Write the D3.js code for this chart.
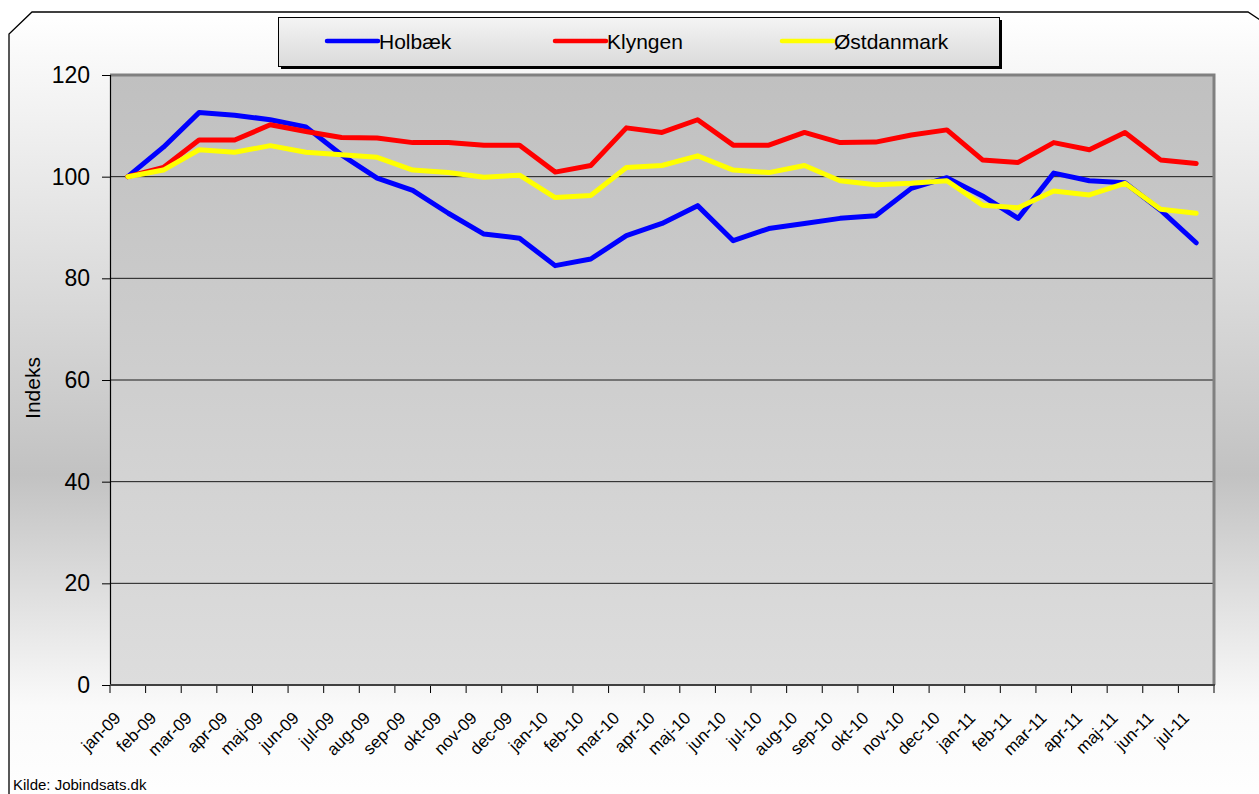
<!DOCTYPE html>
<html>
<head>
<meta charset="utf-8">
<script src="https://cdn.jsdelivr.net/npm/d3@7"></script>
<style>
  body { margin: 0; background: #fff; }
  svg { display: block; font-family: "Liberation Sans", Arial, sans-serif; }
</style>
</head>
<body>
<div id="chart"></div>
<script>
// months shown on the x axis
var months = ["jan-09","feb-09","mar-09","apr-09","maj-09","jun-09","jul-09","aug-09","sep-09","okt-09","nov-09","dec-09",
              "jan-10","feb-10","mar-10","apr-10","maj-10","jun-10","jul-10","aug-10","sep-10","okt-10","nov-10","dec-10",
              "jan-11","feb-11","mar-11","apr-11","maj-11","jun-11","jul-11"];
var holbaek = [100, 105.8, 112.6, 112.1, 111.2, 109.8, 104.3, 99.7, 97.3, 92.8, 88.7, 87.9, 82.5, 83.8, 88.4, 90.8,
               94.3, 87.4, 89.8, 90.8, 91.8, 92.3, 97.7, 99.8, 96.2, 91.8, 100.7, 99.2, 98.8, 93.4, 87.0];
var klyngen = [100, 101.8, 107.2, 107.2, 110.2, 108.9, 107.7, 107.6, 106.7, 106.7, 106.2, 106.2, 100.9, 102.2, 109.6, 108.7,
               111.2, 106.2, 106.2, 108.7, 106.7, 106.8, 108.2, 109.2, 103.3, 102.8, 106.7, 105.3, 108.7, 103.3, 102.6];
var ostdanmark = [100, 101.3, 105.3, 104.8, 106.1, 104.8, 104.3, 103.8, 101.3, 100.8, 99.9, 100.3, 95.9, 96.3, 101.8, 102.2,
                  104.1, 101.3, 100.8, 102.2, 99.2, 98.4, 98.7, 99.2, 94.4, 93.9, 97.2, 96.4, 98.7, 93.6, 92.8];
var seriesNames = ["Holbæk", "Klyngen", "Østdanmark"];
var seriesColors = ["#0000ff", "#ff0000", "#ffff00"];
var yTicks = [0, 20, 40, 60, 80, 100, 120];

var width = 1259, height = 794;
var plot = {left: 110, top: 75, right: 1214, bottom: 685};

var svg = d3.select("#chart").append("svg")
    .attr("width", width)
    .attr("height", height);

var defs = svg.append("defs");
var bg = defs.append("linearGradient").attr("id", "bgGrad")
    .attr("x1", 0).attr("y1", 0).attr("x2", 0).attr("y2", 1);
bg.append("stop").attr("offset", "0%").attr("stop-color", "#ffffff");
bg.append("stop").attr("offset", "58%").attr("stop-color", "#c2c2c2");
bg.append("stop").attr("offset", "87%").attr("stop-color", "#fafafa");
bg.append("stop").attr("offset", "100%").attr("stop-color", "#ffffff");

var pg = defs.append("linearGradient").attr("id", "plotGrad")
    .attr("x1", 0).attr("y1", 0).attr("x2", 0).attr("y2", 1);
pg.append("stop").attr("offset", "0%").attr("stop-color", "#c0c0c0");
pg.append("stop").attr("offset", "100%").attr("stop-color", "#dddddd");

var lg = defs.append("linearGradient").attr("id", "legGrad")
    .attr("x1", 0).attr("y1", 0).attr("x2", 0).attr("y2", 1);
lg.append("stop").attr("offset", "0%").attr("stop-color", "#f4f4f4");
lg.append("stop").attr("offset", "100%").attr("stop-color", "#dadada");

/* Outer chart area with cut corners */
svg.append("path")
    .attr("d", "M32,12 L1248,12 L1275,30 L1275,810 L9,810 L9,34 Z")
    .attr("fill", "url(#bgGrad)")
    .attr("stroke", "#000")
    .attr("stroke-width", 1.3);

/* Scales */
var x = d3.scaleBand()
    .domain(months)
    .range([plot.left, plot.right])
    .padding(0);
var y = d3.scaleLinear()
    .domain([0, 120])
    .range([plot.bottom, plot.top]);

/* Plot area */
svg.append("rect")
    .attr("x", plot.left)
    .attr("y", plot.top)
    .attr("width", plot.right - plot.left)
    .attr("height", plot.bottom - plot.top)
    .attr("fill", "url(#plotGrad)");

// gridlines
svg.append("g").selectAll("line")
    .data(yTicks.filter(function(d){ return d > 0 && d < 120; }))
    .enter().append("line")
    .attr("x1", plot.left).attr("x2", plot.right)
    .attr("y1", function(d){ return y(d); })
    .attr("y2", function(d){ return y(d); })
    .attr("stroke", "#1a1a1a")
    .attr("stroke-width", 1);

// plot border top and right (grey)
svg.append("path")
    .attr("d", "M" + plot.left + "," + plot.top + " L" + plot.right + "," + plot.top + " L" + plot.right + "," + plot.bottom)
    .attr("fill", "none")
    .attr("stroke", "#808080")
    .attr("stroke-width", 3);

/* Y axis */
var yAxis = svg.append("g")
    .attr("transform", "translate(" + plot.left + ",0)")
    .call(d3.axisLeft(y).tickValues(yTicks).tickSize(8).tickPadding(12));
yAxis.select(".domain").attr("stroke", "#000").attr("stroke-width", 1.2);
yAxis.selectAll(".tick line").attr("stroke", "#000");
yAxis.selectAll("text")
    .attr("fill", "#000")
    .style("font-size", "23px")
    .style("font-family", "'Liberation Sans', Arial, sans-serif");

svg.append("text")
    .attr("transform", "translate(40,388) rotate(-90)")
    .attr("text-anchor", "middle")
    .style("font-size", "21px")
    .text("Indeks");

/* X axis */
var xAxis = svg.append("g")
    .attr("transform", "translate(0," + plot.bottom + ")")
    .call(d3.axisBottom(x).tickSize(0).tickPadding(0));
xAxis.select(".domain").remove();
xAxis.selectAll(".tick text")
    .attr("fill", "#000")
    .attr("text-anchor", "end")
    .attr("dy", 0)
    .attr("y", 0)
    .attr("transform", "translate(-6,34) rotate(-45)")
    .style("font-size", "17px")
    .style("font-family", "'Liberation Sans', Arial, sans-serif");

// boundary ticks between months
var bounds = months.map(function(m){ return x(m); }).concat([plot.right]);
svg.append("g").selectAll("line")
    .data(bounds)
    .enter().append("line")
    .attr("x1", function(d){ return d; }).attr("x2", function(d){ return d; })
    .attr("y1", plot.bottom).attr("y2", plot.bottom + 8)
    .attr("stroke", "#000")
    .attr("stroke-width", 1);
svg.append("line")
    .attr("x1", plot.left).attr("x2", plot.right + 1)
    .attr("y1", plot.bottom).attr("y2", plot.bottom)
    .attr("stroke", "#404040")
    .attr("stroke-width", 2);

/* Lines */
var series = [holbaek, klyngen, ostdanmark];
var line = d3.line()
    .x(function(d, i){ return x(months[i]) + x.bandwidth() / 2; })
    .y(function(d){ return y(d); });
svg.append("g").selectAll("path")
    .data(series)
    .enter().append("path")
    .attr("d", function(d){ return line(d); })
    .attr("fill", "none")
    .attr("stroke", function(d, i){ return seriesColors[i]; })
    .attr("stroke-width", 5)
    .attr("stroke-linejoin", "round")
    .attr("stroke-linecap", "round");

/* Legend */
var legend = svg.append("g");
legend.append("rect")
    .attr("x", 281).attr("y", 20)
    .attr("width", 721).attr("height", 49)
    .attr("fill", "#000");
legend.append("rect")
    .attr("x", 278.5).attr("y", 17.5)
    .attr("width", 721).attr("height", 49)
    .attr("fill", "url(#legGrad)")
    .attr("stroke", "#000")
    .attr("stroke-width", 1);
var legX = [327, 555, 782];
var items = legend.selectAll(".leg")
    .data(seriesNames)
    .enter().append("g")
    .attr("class", "leg")
    .attr("transform", function(d, i){ return "translate(" + legX[i] + ",41)"; });
items.append("line")
    .attr("x1", 0).attr("x2", 51)
    .attr("stroke", function(d, i){ return seriesColors[i]; })
    .attr("stroke-width", 4.5)
    .attr("stroke-linecap", "round");
items.append("text")
    .attr("x", 52)
    .attr("y", 8)
    .style("font-size", "21px")
    .text(function(d){ return d; });

/* Source */
svg.append("text")
    .attr("x", 13)
    .attr("y", 790)
    .style("font-size", "15px")
    .text("Kilde: Jobindsats.dk");
</script>
</body>
</html>
